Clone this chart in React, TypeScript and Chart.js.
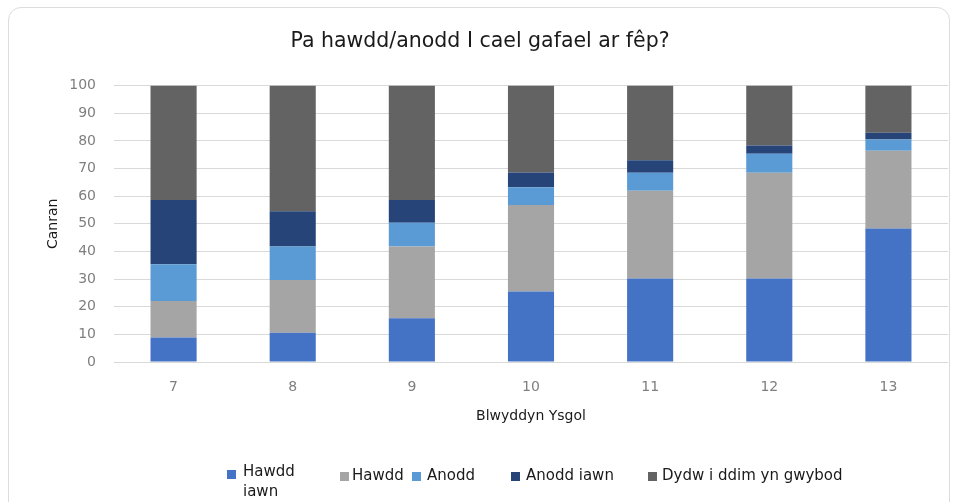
import React, { useEffect, useRef } from "react";
import { Chart, registerables } from "chart.js";

Chart.register(...registerables);

const categories = ["7", "8", "9", "10", "11", "12", "13"];
const hawddIawn = [8.9, 10.6, 15.8, 25.5, 30.2, 30.2, 48.3];
const hawdd = [13.2, 19.1, 26.0, 31.3, 31.8, 38.3, 28.1];
const anodd = [13.3, 12.1, 8.6, 6.4, 6.5, 6.8, 4.1];
const anoddIawn = [23.2, 12.7, 8.2, 5.4, 4.5, 3.0, 2.4];
const dydw = [41.4, 45.5, 41.4, 31.4, 27.0, 21.7, 17.1];

const seriesNames = ["Hawdd iawn", "Hawdd", "Anodd", "Anodd iawn", "Dydw i ddim yn gwybod"];
const seriesColors = ["#4472C4", "#A5A5A5", "#5B9BD5", "#264478", "#636363"];
const seriesValues = [hawddIawn, hawdd, anodd, anoddIawn, dydw];

const titleText = "Pa hawdd/anodd I cael gafael ar fêp?";
const yTitle = "Canran";
const xTitle = "Blwyddyn Ysgol";

const FONT = "'DejaVu Sans', Verdana, sans-serif";

const legendItems = [
  { box: [227, 470], text: [243, 461], lines: ["Hawdd", "iawn"] },
  { box: [340, 472], text: [352, 465], lines: ["Hawdd"] },
  { box: [412, 472], text: [427, 465], lines: ["Anodd"] },
  { box: [511, 472], text: [526, 465], lines: ["Anodd iawn"] },
  { box: [648, 472], text: [662, 465], lines: ["Dydw i ddim yn gwybod"] },
];

export default function App() {
  const ref = useRef<HTMLCanvasElement | null>(null);

  useEffect(() => {
    if (!ref.current) return;
    const chart = new Chart(ref.current, {
      type: "bar",
      data: {
        labels: categories,
        datasets: seriesValues.map((vals, i) => ({
          label: seriesNames[i],
          data: vals,
          backgroundColor: seriesColors[i],
          borderWidth: 0,
          categoryPercentage: 1,
          barPercentage: 0.387,
        })),
      },
      options: {
        responsive: false,
        animation: false,
        layout: { padding: { left: 12, right: 9, top: 0, bottom: 73 } },
        plugins: {
          legend: { display: false },
          tooltip: { enabled: false },
          title: {
            display: true,
            text: titleText,
            color: "#1a1a1a",
            font: { family: FONT, size: 20.5, weight: "normal" },
            padding: { top: 29, bottom: 32 },
          },
        },
        scales: {
          x: {
            stacked: true,
            grid: { display: false, drawTicks: false },
            border: { display: false },
            ticks: {
              color: "#7f7f7f",
              font: { family: FONT, size: 14 },
              padding: 17,
            },
            title: {
              display: true,
              text: xTitle,
              color: "#1a1a1a",
              font: { family: FONT, size: 14 },
              padding: { top: 0, bottom: 4 },
            },
            afterFit: (s: any) => {
              s.height = 67;
            },
          },
          y: {
            stacked: true,
            min: 0,
            max: 100,
            grid: { color: "#d9d9d9", lineWidth: 1, drawTicks: false },
            border: { display: false },
            ticks: {
              stepSize: 10,
              color: "#7f7f7f",
              font: { family: FONT, size: 14 },
              padding: 18,
            },
            title: {
              display: true,
              text: yTitle,
              color: "#1a1a1a",
              font: { family: FONT, size: 14 },
              padding: { top: 33, bottom: 0 },
            },
            afterFit: (s: any) => {
              s.width = 102;
            },
          },
        },
      },
    });
    return () => chart.destroy();
  }, []);

  return (
    <div
      style={{
        position: "fixed",
        left: 0,
        top: 0,
        width: 957,
        height: 502,
        background: "#ffffff",
        overflow: "hidden",
      }}
    >
      <div
        style={{
          position: "absolute",
          left: 8,
          top: 7,
          width: 942,
          height: 540,
          border: "1px solid #dcdcdc",
          borderRadius: 13,
          boxSizing: "border-box",
        }}
      />
      <canvas
        ref={ref}
        width={957}
        height={502}
        style={{ position: "absolute", left: 0, top: 0, display: "block" }}
      />
      {legendItems.map((it, i) => (
        <React.Fragment key={i}>
          <div
            style={{
              position: "absolute",
              left: it.box[0],
              top: it.box[1],
              width: 9,
              height: 9,
              background: seriesColors[i],
            }}
          />
          <div
            style={{
              position: "absolute",
              left: it.text[0],
              top: it.text[1],
              fontFamily: FONT,
              fontSize: 15,
              lineHeight: "20px",
              color: "#1a1a1a",
              whiteSpace: "nowrap",
            }}
          >
            {it.lines.map((l, j) => (
              <div key={j}>{l}</div>
            ))}
          </div>
        </React.Fragment>
      ))}
    </div>
  );
}
